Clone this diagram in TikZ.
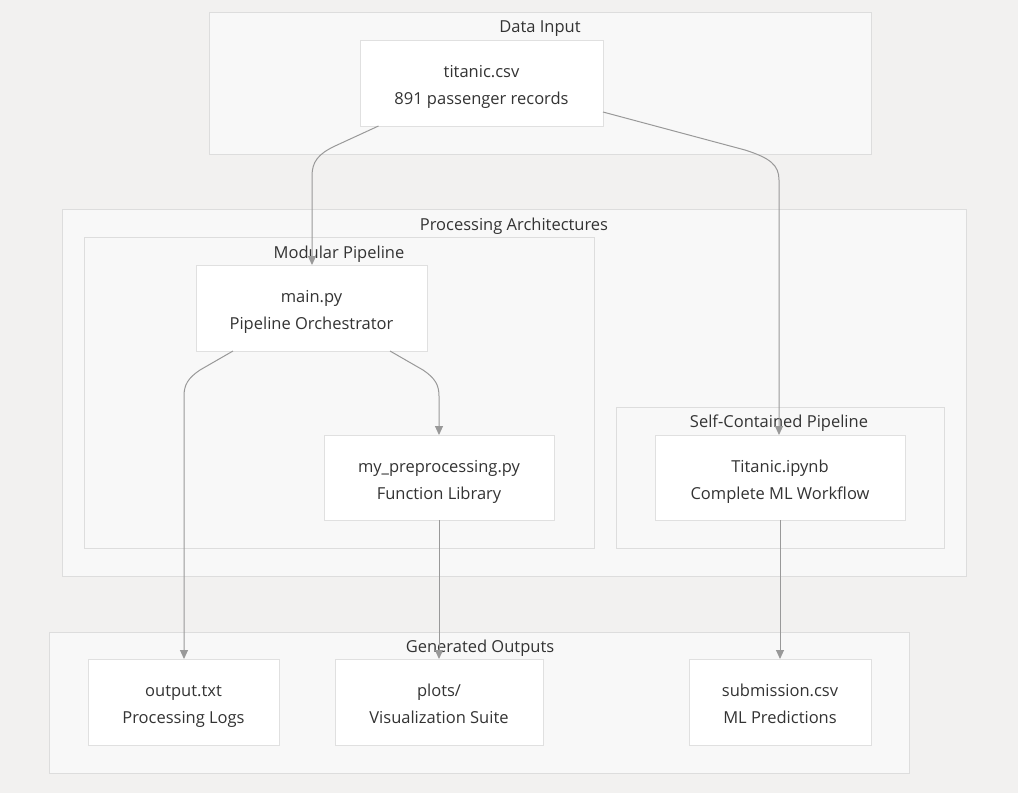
\documentclass[tikz,border=0pt]{standalone}
\usepackage{fontspec}
\setmainfont{Open Sans}
\usetikzlibrary{arrows.meta}
\definecolor{bgc}{HTML}{F2F1F0}
\definecolor{clfill}{HTML}{F8F8F8}
\definecolor{cldraw}{HTML}{DDDDDD}
\definecolor{nddraw}{HTML}{E0E0E0}
\definecolor{edgec}{HTML}{999999}
\definecolor{txtc}{HTML}{333333}
\newcommand{\lnst}{\rule[-3.2pt]{0pt}{23.2pt}}
\tikzset{
  cluster/.style={draw=cldraw, fill=clfill, line width=1pt, inner sep=0pt, outer sep=0pt},
  cltitle/.style={text=txtc, font=\fontsize{16.5}{20}\selectfont, inner sep=0pt},
  box/.style={draw=nddraw, fill=white, line width=1pt, align=center, text=txtc,
    font=\fontsize{16.5}{27}\selectfont, inner sep=0pt, outer sep=0pt},
  edge/.style={draw=edgec, line width=1pt, -{Triangle[length=9pt,width=8pt]}},
}
\begin{document}
\begin{tikzpicture}[x=1pt,y=-1pt]
\useasboundingbox[fill=bgc] (0,0) rectangle (1018,793);
% clusters
\draw[cluster] (209,12) rectangle (871,154);
\node[cltitle] (tin) at (540,29) {Data Input};
\draw[cluster] (62,209) rectangle (966,576);
\node[cltitle] (tproc) at (514,226) {Processing Architectures};
\draw[cluster] (84,237) rectangle (594,548);
\node[cltitle] (tmod) at (339,254) {Modular Pipeline};
\draw[cluster] (616,407) rectangle (944,548);
\node[cltitle] (tself) at (779,423) {Self-Contained Pipeline};
\draw[cluster] (49,632) rectangle (909,773);
\node[cltitle] (tout) at (480,648) {Generated Outputs};
% nodes
\node[box, minimum width=243pt, minimum height=86pt] (titanic) at (481.5,83) {titanic.csv\lnst\\891 passenger records\lnst};
\node[box, minimum width=231pt, minimum height=86pt] (main) at (311.5,308) {main.py\lnst\\Pipeline Orchestrator\lnst};
\node[box, minimum width=230pt, minimum height=85pt] (pre) at (439,477.5) {my\_preprocessing.py\lnst\\Function Library\lnst};
\node[box, minimum width=250pt, minimum height=85pt] (nb) at (780,477.5) {Titanic.ipynb\lnst\\Complete ML Workflow\lnst};
\node[box, minimum width=191pt, minimum height=86pt] (out) at (183.5,702) {output.txt\lnst\\Processing Logs\lnst};
\node[box, minimum width=208pt, minimum height=86pt] (plots) at (439,702) {plots/\lnst\\Visualization Suite\lnst};
\node[box, minimum width=182pt, minimum height=86pt] (sub) at (780,702) {submission.csv\lnst\\ML Predictions\lnst};
% edges
\draw[edge] ([xshift=-103pt]titanic.south) -- (335,146) .. controls (318,154) and (312,162) .. (312,176) -- (main.north -| 312,0);
\draw[edge] ([yshift=-29pt]titanic.east) -- (745,150) .. controls (770,158) and (779,165) .. (779,180) -- (nb.north -| 779,0);
\draw[edge] ([xshift=-78.5pt]main.south) -- (200,370) .. controls (188,378) and (184,385) .. (184,396) -- (out.north -| 184,0);
\draw[edge] ([xshift=78.5pt]main.south) -- (423,370) .. controls (435,378) and (439,385) .. (439,396) -- (pre.north);
\draw[edge] (pre.south) -- (plots.north);
\draw[edge] (nb.south) -- (sub.north);
\end{tikzpicture}
\end{document}
